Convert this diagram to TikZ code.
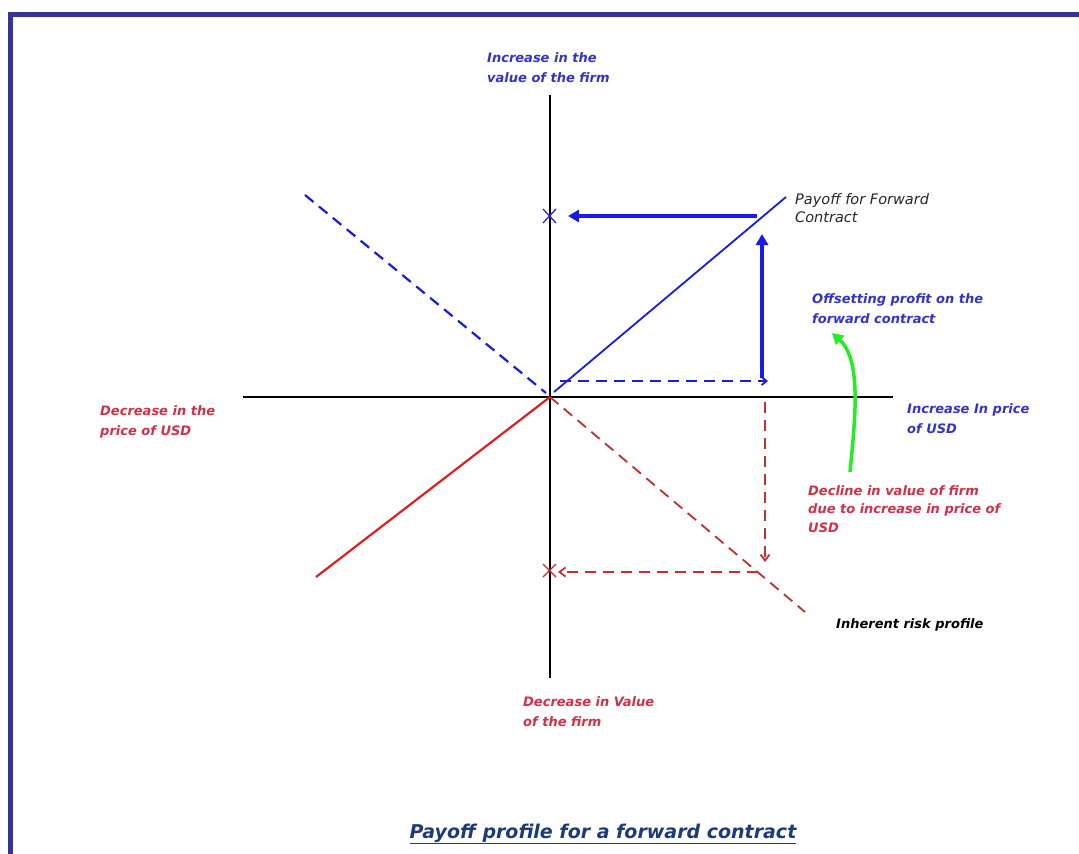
\documentclass[tikz,border=0pt]{standalone}
\usepackage{fontspec}
\setmainfont{DejaVu Sans}
\usetikzlibrary{arrows.meta}
\definecolor{frameblue}{HTML}{363399}
\definecolor{lblue}{HTML}{3333CC}
\definecolor{lineblue}{HTML}{1A1AE6}
\definecolor{lred}{HTML}{D03048}
\definecolor{linered}{HTML}{E02020}
\definecolor{dred}{HTML}{C03030}
\definecolor{titleblue}{HTML}{1F3A7A}
\definecolor{lgreen}{HTML}{22EE22}
\tikzset{
  lbl/.style={font=\fontsize{13}{20}\selectfont\bfseries\itshape, anchor=north west, align=left, inner sep=0pt},
  axis/.style={draw=black, line width=1.8pt},
  xmark/.style={line width=1.2pt},
}
\begin{document}
\begin{tikzpicture}[x=1pt,y=-1pt]
\useasboundingbox (0,0) rectangle (1079,854);
\fill[white] (0,0) rectangle (1079,854);
% frame
\fill[frameblue] (8,12) rectangle (1079,17);
\fill[frameblue] (8,12) rectangle (13,854);
% coordinates
\coordinate (O) at (550,397);
\coordinate (yt) at (550,95);
\coordinate (yb) at (550,678);
\coordinate (xl) at (243,397);
\coordinate (xr) at (893,397);
\coordinate (bTR) at (786,197);
\coordinate (bO) at (554,392);
\coordinate (bdTL) at (305,195);
\coordinate (bdO) at (546,393);
\coordinate (rBL) at (316,577);
\coordinate (rdBR) at (805,612);
\coordinate (bh1) at (560,381);
\coordinate (bh2) at (768,381);
\coordinate (bv1) at (762,378);
\coordinate (bv2) at (762,234);
\coordinate (bt1) at (757,216);
\coordinate (bt2) at (568,216);
\coordinate (rv1) at (765,402);
\coordinate (rv2) at (765,562);
\coordinate (rh1) at (758,572);
\coordinate (rh2) at (558,572);
\coordinate (g1) at (850,472);
\coordinate (g2) at (832,333);
% axes
\draw[axis] (yb) -- (yt);
\draw[axis] (xl) -- (xr);
% profile lines
\draw[lineblue, line width=1.8pt] (bO) -- (bTR);
\draw[lineblue, line width=2.2pt, dash pattern=on 11pt off 7pt] (bdTL) -- (bdO);
\draw[linered, line width=2.2pt] (rBL) -- (O);
\draw[dred, line width=1.8pt, dash pattern=on 11pt off 7pt] (O) -- (rdBR);
% blue construction
\draw[lineblue, line width=1.8pt, dash pattern=on 11pt off 7pt, -{Straight Barb[length=5pt,width=8pt]}] (bh1) -- (bh2);
\draw[lineblue, line width=3.5pt, -{Triangle[length=11pt,width=12pt]}] (bv1) -- (bv2);
\draw[lineblue, line width=3.5pt, -{Triangle[length=11pt,width=12pt]}] (bt1) -- (bt2);
\draw[lineblue, xmark] (543,209) -- (556,223) (543,223) -- (556,209);
% red construction
\draw[dred, line width=1.8pt, dash pattern=on 11pt off 7pt, -{Straight Barb[length=6pt,width=9pt]}] (rv1) -- (rv2);
\draw[dred, line width=1.8pt, dash pattern=on 11pt off 7pt, -{Straight Barb[length=6pt,width=9pt]}] (rh1) -- (rh2);
\draw[dred, xmark] (543,564) -- (556,577) (543,577) -- (556,564);
% green arrow
\draw[lgreen, line width=3.5pt, -{Triangle[length=11pt,width=12pt]}] (g1) .. controls (855,420) and (862,360) .. (g2);
% labels
\node[lbl, text=lblue] (incval) at (487,52) {Increase in the\\value of the firm};
\node[lbl, text=black!85, font=\fontsize{14.5}{18}\selectfont\itshape] (payoff) at (795,193) {Payoff for Forward\\Contract};
\node[lbl, text=lblue] (offset) at (812,293) {Offsetting profit on the\\forward contract};
\node[lbl, text=lred] (decprice) at (100,405) {Decrease in the\\price of USD};
\node[lbl, text=lblue] (incprice) at (907,403) {Increase In price\\of USD};
\node[lbl, text=lred, font=\fontsize{13}{18.5}\selectfont\bfseries\itshape] (decline) at (808,485) {Decline in value of firm\\due to increase in price of\\USD};
\node[lbl, text=black] (inherent) at (836,618) {Inherent risk profile};
\node[lbl, text=lred] (decval) at (523,696) {Decrease in Value\\of the firm};
\node[font=\fontsize{19}{22}\selectfont\bfseries\itshape, text=titleblue, inner sep=0pt, anchor=base] (title) at (603,838) {\underline{Payoff profile for a forward contract}};
\end{tikzpicture}
\end{document}
